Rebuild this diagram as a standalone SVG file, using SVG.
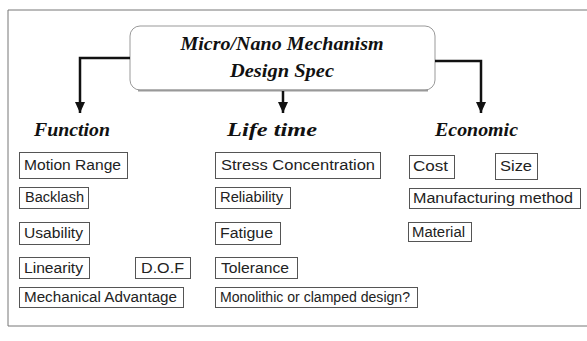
<svg xmlns="http://www.w3.org/2000/svg" width="587" height="341" viewBox="0 0 587 341">
<style>
.frame{fill:none;stroke:#777;stroke-width:1}
.box{fill:#fff;stroke:#555;stroke-width:1}
.lbl{font-family:"Liberation Sans",Arial,sans-serif;font-size:14px;fill:#222}
.head{font-family:"Liberation Serif","Times New Roman",serif;font-weight:bold;font-style:italic;fill:#111}
.conn{fill:none;stroke:#111;stroke-width:2.5}
.ah{fill:#111}
</style>
<defs>
<marker id="arr" viewBox="0 0 11 10" refX="11" refY="5" markerWidth="11" markerHeight="10" markerUnits="userSpaceOnUse" orient="auto">
<path d="M0,0 L11,5 L0,10 Z" class="ah"/>
</marker>
</defs>
<rect width="587" height="341" fill="#fff"/>
<path class="frame" d="M587,10 H8 V326 H587"/>
<g id="root">
<rect x="130" y="26" width="305" height="64" rx="10" fill="#fff" stroke="#999" stroke-width="1"/>
<path d="M138,90.5 H428" stroke="#999" stroke-width="2" fill="none"/>
<text class="head" x="282" y="50" text-anchor="middle" font-size="19" textLength="203" lengthAdjust="spacingAndGlyphs">Micro/Nano Mechanism</text>
<text class="head" x="282" y="77" text-anchor="middle" font-size="19" textLength="104" lengthAdjust="spacingAndGlyphs">Design Spec</text>
</g>
<g id="connectors">
<path class="conn" d="M130,58 H80 V113" marker-end="url(#arr)"/>
<path class="conn" d="M283,91 V113" marker-end="url(#arr)"/>
<path class="conn" d="M435,61 H481 V113" marker-end="url(#arr)"/>
</g>
<g id="function">
<text class="head" x="34" y="136" font-size="19" textLength="76" lengthAdjust="spacingAndGlyphs">Function</text>
<g id="motion-range"><rect class="box" x="19.5" y="152.5" width="108" height="26"/><text class="lbl" x="24" y="170" textLength="97" lengthAdjust="spacingAndGlyphs">Motion Range</text></g>
<g id="backlash"><rect class="box" x="19.5" y="187.5" width="69" height="21"/><text class="lbl" x="25" y="202" textLength="59" lengthAdjust="spacingAndGlyphs">Backlash</text></g>
<g id="usability"><rect class="box" x="19.5" y="222.5" width="70" height="22"/><text class="lbl" x="24" y="238" textLength="59" lengthAdjust="spacingAndGlyphs">Usability</text></g>
<g id="linearity"><rect class="box" x="19.5" y="257.5" width="70" height="21"/><text class="lbl" x="24" y="273" textLength="59" lengthAdjust="spacingAndGlyphs">Linearity</text></g>
<g id="dof"><rect class="box" x="135.5" y="257.5" width="55" height="21"/><text class="lbl" x="141" y="273" textLength="43" lengthAdjust="spacingAndGlyphs">D.O.F</text></g>
<g id="mech-adv"><rect class="box" x="19.5" y="287.5" width="164" height="20"/><text class="lbl" x="24" y="302" textLength="153" lengthAdjust="spacingAndGlyphs">Mechanical Advantage</text></g>
</g>
<g id="lifetime">
<text class="head" x="227" y="136" font-size="19" textLength="90" lengthAdjust="spacingAndGlyphs">Life time</text>
<g id="stress"><rect class="box" x="215.5" y="152.5" width="165" height="26"/><text class="lbl" x="221" y="170" textLength="154" lengthAdjust="spacingAndGlyphs">Stress Concentration</text></g>
<g id="reliability"><rect class="box" x="215.5" y="187.5" width="75" height="21"/><text class="lbl" x="220" y="202" textLength="63" lengthAdjust="spacingAndGlyphs">Reliability</text></g>
<g id="fatigue"><rect class="box" x="215.5" y="222.5" width="65" height="22"/><text class="lbl" x="220" y="238" textLength="53" lengthAdjust="spacingAndGlyphs">Fatigue</text></g>
<g id="tolerance"><rect class="box" x="215.5" y="257.5" width="82" height="21"/><text class="lbl" x="221" y="273" textLength="68" lengthAdjust="spacingAndGlyphs">Tolerance</text></g>
<g id="monolithic"><rect class="box" x="215.5" y="287.5" width="202" height="20"/><text class="lbl" x="220" y="302" textLength="190" lengthAdjust="spacingAndGlyphs">Monolithic or clamped design?</text></g>
</g>
<g id="economic">
<text class="head" x="435" y="136" font-size="19" textLength="83" lengthAdjust="spacingAndGlyphs">Economic</text>
<g id="cost"><rect class="box" x="409.5" y="155.5" width="45" height="23"/><text class="lbl" x="413" y="171" textLength="35" lengthAdjust="spacingAndGlyphs">Cost</text></g>
<g id="size"><rect class="box" x="495.5" y="153.5" width="42" height="26"/><text class="lbl" x="500" y="171" textLength="32" lengthAdjust="spacingAndGlyphs">Size</text></g>
<g id="manufacturing"><rect class="box" x="409.5" y="188.5" width="171" height="20"/><text class="lbl" x="413" y="203" textLength="160" lengthAdjust="spacingAndGlyphs">Manufacturing method</text></g>
<g id="material"><rect class="box" x="408.5" y="222.5" width="63" height="19"/><text class="lbl" x="412" y="237" textLength="53" lengthAdjust="spacingAndGlyphs">Material</text></g>
</g>
</svg>
